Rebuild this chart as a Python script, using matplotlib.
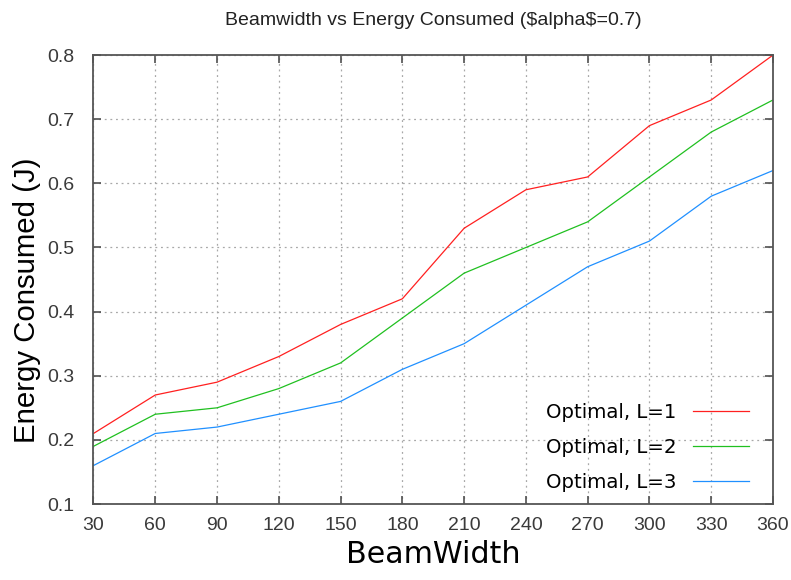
import matplotlib
matplotlib.use("Agg")
import matplotlib.pyplot as plt

plt.rcParams['font.family'] = ['Liberation Sans', 'DejaVu Sans']

beamwidth = [30, 60, 90, 120, 150, 180, 210, 240, 270, 300, 330, 360]
energy_l1 = [0.21, 0.27, 0.29, 0.33, 0.38, 0.42, 0.53, 0.59, 0.61, 0.69, 0.73, 0.80]
energy_l2 = [0.19, 0.24, 0.25, 0.28, 0.32, 0.39, 0.46, 0.50, 0.54, 0.61, 0.68, 0.73]
energy_l3 = [0.16, 0.21, 0.22, 0.24, 0.26, 0.31, 0.35, 0.41, 0.47, 0.51, 0.58, 0.62]
yticks = [0.1, 0.2, 0.3, 0.4, 0.5, 0.6, 0.7, 0.8]
labels = ['Optimal, L=1', 'Optimal, L=2', 'Optimal, L=3']
colores = ['#ff2020', '#20c020', '#2090ff']

fig = plt.figure(figsize=(7.91, 5.8), dpi=100)
ax = fig.add_axes([0.1182, 0.131, 0.859, 0.774])

for y, lab, c in zip([energy_l1, energy_l2, energy_l3], labels, colores):
    ax.plot(beamwidth, y, color=c, lw=0.9, label=lab)

ax.set_xlim(30, 360)
ax.set_ylim(0.1, 0.8)
ax.set_xticks(beamwidth)
ax.set_yticks(yticks)
ax.set_yticklabels([str(v) for v in yticks])
ax.tick_params(direction='in', top=True, right=True, length=6, width=1.2,
               labelsize=14, colors='#505050', labelcolor='#3a3a3a')
ax.tick_params(axis='x', pad=9)
ax.tick_params(axis='y', pad=14)
for s in ax.spines.values():
    s.set_color('#555555')
    s.set_linewidth(1.3)

# cuadricula punteada
ax.grid(True, color='#a8a8a8', linestyle=(0, (1.5, 3)), linewidth=0.9)

ax.set_xlabel('BeamWidth', fontsize=21.7, family=['DejaVu Sans'], labelpad=5)
ax.set_ylabel('Energy Consumed (J)', fontsize=21.2)
ax.yaxis.set_label_coords(-0.077, 0.454)
ax.set_title(r'Beamwidth vs Energy Consumed (\$alpha\$=0.7)', fontsize=14,
             pad=22, color='#222222')

ax.legend(loc='lower right', frameon=False, markerfirst=False,
          prop={'family': 'DejaVu Sans', 'size': 14.2},
          handlelength=2.84, handletextpad=0.86, labelspacing=0.8,
          borderpad=0, borderaxespad=0, bbox_to_anchor=(0.9647, 0.027))

plt.savefig('out.png', dpi=100)
